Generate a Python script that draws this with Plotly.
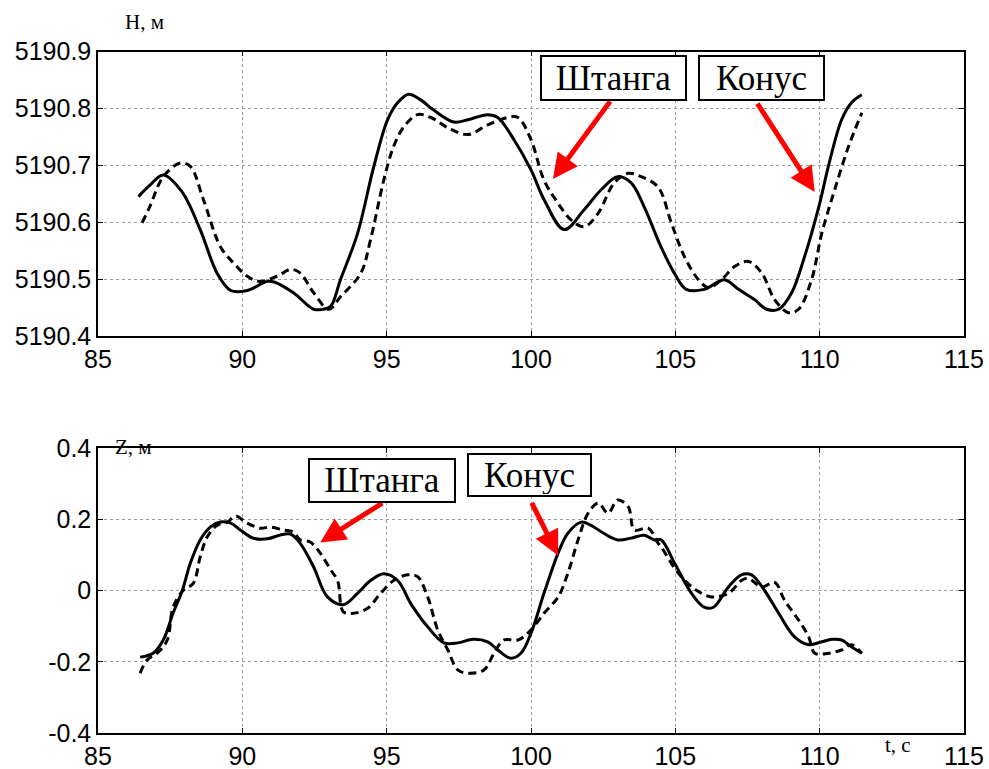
import plotly.graph_objects as go

# ---------------- data ----------------
t_h_cone = [86.4, 86.8, 87.26, 87.9, 88.54, 89.13, 89.6, 90.17, 90.86, 91.1, 91.77, 92.47, 92.8, 93.06, 93.4,
            93.99, 94.55, 95.03, 95.38, 95.76, 96.18, 96.63, 97.33, 97.81, 98.5, 98.85, 99.41, 100.0, 100.45,
            101.15, 101.84, 102.43, 103.0, 103.47, 103.92, 104.5, 104.97, 105.38, 106.0, 106.7, 107.19, 107.74,
            108.16, 108.58, 109.03, 109.48, 109.97, 110.31, 110.76, 111.1, 111.46]
h_cone = [5190.645, 5190.665, 5190.683, 5190.654, 5190.587, 5190.51, 5190.48, 5190.48, 5190.496, 5190.495,
          5190.476, 5190.447, 5190.447, 5190.452, 5190.499, 5190.58, 5190.697, 5190.78, 5190.81, 5190.825,
          5190.815, 5190.797, 5190.776, 5190.78, 5190.789, 5190.784, 5190.745, 5190.692, 5190.64, 5190.587,
          5190.622, 5190.657, 5190.68, 5190.669, 5190.627, 5190.557, 5190.51, 5190.482, 5190.482, 5190.499,
          5190.482, 5190.464, 5190.447, 5190.447, 5190.476, 5190.54, 5190.627, 5190.70, 5190.78, 5190.81,
          5190.824]

t_h_rod = [86.53, 86.8, 87.26, 87.85, 88.2, 88.65, 89.24, 89.7, 90.17, 90.6, 91.2, 91.67, 92.0, 92.47, 93.0,
           93.4, 94.1, 94.44, 94.9, 95.24, 95.6, 96.07, 96.53, 97.12, 97.81, 98.5, 99.2, 99.55, 100.0, 100.45,
           100.94, 101.39, 101.84, 102.33, 102.88, 103.37, 103.82, 104.4, 104.86, 105.31, 105.8, 106.15, 106.6,
           107.05, 107.53, 107.99, 108.44, 108.92, 109.27, 109.72, 110.07, 110.52, 111.0, 111.46]
h_rod = [5190.599, 5190.628, 5190.68, 5190.704, 5190.698, 5190.64, 5190.557, 5190.528, 5190.505, 5190.496,
         5190.505, 5190.517, 5190.511, 5190.476, 5190.447, 5190.469, 5190.51, 5190.569, 5190.674, 5190.733,
         5190.768, 5190.789, 5190.784, 5190.766, 5190.754, 5190.771, 5190.784, 5190.784, 5190.745, 5190.674,
         5190.633, 5190.604, 5190.592, 5190.616, 5190.669, 5190.686, 5190.68, 5190.662, 5190.599, 5190.54,
         5190.499, 5190.485, 5190.499, 5190.522, 5190.531, 5190.511, 5190.464, 5190.441, 5190.447, 5190.499,
         5190.58, 5190.657, 5190.733, 5190.792]

t_z_cone = [86.46, 86.91, 87.26, 87.6, 87.92, 88.2, 88.54, 88.89, 89.24, 89.6, 89.93, 90.38, 90.87, 91.32, 91.67,
            92.0, 92.47, 92.95, 93.5, 93.99, 94.44, 94.9, 95.38, 95.83, 96.42, 96.98, 97.46, 98.0, 98.5, 98.85,
            99.3, 99.65, 100.0, 100.45, 100.94, 101.28, 101.74, 102.08, 102.53, 103.0, 103.47, 103.92, 104.27,
            104.51, 104.97, 105.56, 106.0, 106.32, 106.84, 107.29, 107.64, 108.09, 108.58, 109.13, 109.62,
            110.07, 110.42, 110.76, 111.1, 111.46]
z_cone = [-0.187, -0.176, -0.139, -0.064, 0.0, 0.077, 0.142, 0.178, 0.192, 0.189, 0.17, 0.147, 0.145, 0.156,
          0.158, 0.133, 0.066, -0.018, -0.04, -0.008, 0.028, 0.047, 0.028, -0.036, -0.102, -0.147, -0.147,
          -0.137, -0.144, -0.167, -0.19, -0.176, -0.12, -0.008, 0.105, 0.161, 0.192, 0.183, 0.16, 0.142, 0.147,
          0.155, 0.142, 0.142, 0.077, -0.008, -0.047, -0.047, 0.01, 0.044, 0.044, 0.0, -0.064, -0.13, -0.152,
          -0.144, -0.137, -0.139, -0.158, -0.176]

t_z_rod = [86.46, 86.7, 87.05, 87.4, 87.6, 87.95, 88.3, 88.54, 88.78, 89.13, 89.48, 89.76, 90.17, 90.63, 90.97,
           91.42, 91.77, 92.0, 92.35, 92.7, 93.06, 93.3, 93.5, 93.85, 94.34, 94.79, 95.24, 95.73, 96.07, 96.42,
           96.77, 97.12, 97.46, 97.81, 98.37, 98.72, 99.06, 99.55, 100.0, 100.45, 100.94, 101.28, 101.63,
           101.98, 102.33, 102.67, 103.0, 103.37, 103.58, 104.06, 104.4, 104.51, 105.1, 105.66, 106.25, 106.84,
           107.29, 107.53, 107.99, 108.44, 108.78, 109.27, 109.62, 109.83, 110.31, 110.76, 111.1, 111.46]
z_rod = [-0.232, -0.195, -0.176, -0.139, -0.047, 0.0, 0.02, 0.094, 0.15, 0.183, 0.192, 0.209, 0.189, 0.175,
         0.178, 0.17, 0.164, 0.142, 0.136, 0.105, 0.058, 0.028, -0.06, -0.064, -0.05, -0.008, 0.028, 0.044,
         0.039, -0.018, -0.111, -0.167, -0.223, -0.232, -0.223, -0.176, -0.139, -0.139, -0.111, -0.064, -0.018,
         0.049, 0.142, 0.217, 0.245, 0.217, 0.254, 0.235, 0.17, 0.175, 0.133, 0.122, 0.049, 0.005, -0.018,
         -0.008, 0.028, 0.034, 0.01, 0.023, -0.027, -0.083, -0.13, -0.176, -0.176, -0.167, -0.152, -0.176]

x_ticks = [85, 90, 95, 100, 105, 110, 115]
x_ticktext = ["85", "90", "95", "100", "105", "110", "115"]
h_ticks = [5190.4, 5190.5, 5190.6, 5190.7, 5190.8, 5190.9]
h_ticktext = ["5190.4", "5190.5", "5190.6", "5190.7", "5190.8", "5190.9"]
z_ticks = [-0.4, -0.2, 0, 0.2, 0.4]
z_ticktext = ["-0.4", "-0.2", "0", "0.2", "0.4"]

label_rod = "Штанга"
label_cone = "Конус"

# ---------------- figure ----------------
W, H = 989, 769
fig = go.Figure()

solid = dict(color="black", width=3)
dashed = dict(color="black", width=3, dash="8px,5px")

fig.add_trace(go.Scatter(x=t_h_cone, y=h_cone, mode="lines", line=solid, line_shape="spline",
                         xaxis="x", yaxis="y", showlegend=False))
fig.add_trace(go.Scatter(x=t_h_rod, y=h_rod, mode="lines", line=dashed, line_shape="spline",
                         xaxis="x", yaxis="y", showlegend=False))
fig.add_trace(go.Scatter(x=t_z_cone, y=z_cone, mode="lines", line=solid, line_shape="spline",
                         xaxis="x2", yaxis="y2", showlegend=False))
fig.add_trace(go.Scatter(x=t_z_rod, y=z_rod, mode="lines", line=dashed, line_shape="spline",
                         xaxis="x2", yaxis="y2", showlegend=False))

tickfont = dict(family="Liberation Sans, Arial", size=25, color="black")
common = dict(showline=True, linecolor="black", linewidth=1.5, mirror="ticks", ticks="inside",
              ticklen=5, tickcolor="black", showgrid=True, gridcolor="#9a9a9a", gridwidth=1,
              griddash="dot", zeroline=False, tickfont=tickfont, automargin=False)

xdom = [98 / W, 964 / W]
fig.update_layout(
    width=W, height=H,
    margin=dict(l=0, r=0, t=0, b=0),
    paper_bgcolor="white", plot_bgcolor="white",
    xaxis=dict(domain=xdom, range=[85, 115], tickvals=x_ticks, ticktext=x_ticktext, anchor="y", **common),
    yaxis=dict(domain=[1 - 336 / H, 1 - 51.5 / H], range=[5190.4, 5190.9], tickvals=h_ticks,
               ticktext=h_ticktext, anchor="x", **common),
    xaxis2=dict(domain=xdom, range=[85, 115], tickvals=x_ticks, ticktext=x_ticktext, anchor="y2", **common),
    yaxis2=dict(domain=[1 - 733 / H, 1 - 448 / H], range=[-0.4, 0.4], tickvals=z_ticks,
                ticktext=z_ticktext, anchor="x2", **common),
)

serif = "Liberation Serif, Times New Roman, serif"
box_font = dict(family=serif, size=35, color="black")


def box(text, x0, x1, y0, y1):
    fig.add_annotation(text=text, xref="paper", yref="paper", x=(x0 + x1) / 2 / W, y=1 - (y0 + y1) / 2 / H,
                       xanchor="center", yanchor="middle", showarrow=False, font=box_font,
                       width=x1 - x0 - 6, height=y1 - y0 - 6, align="center", valign="middle",
                       bgcolor="white", bordercolor="black", borderwidth=2, borderpad=1)


def arrow(xr, yr, tail, head):
    fig.add_annotation(text="", xref=xr, yref=yr, axref=xr, ayref=yr,
                       x=head[0], y=head[1], ax=tail[0], ay=tail[1], showarrow=True,
                       arrowhead=2, arrowsize=1, arrowwidth=5, arrowcolor="#ff0000", standoff=0)


# top panel
arrow("x", "y", (102.78, 5190.815), (100.76, 5190.676))
arrow("x", "y", (107.81, 5190.811), (109.83, 5190.653))
box(label_rod, 540, 687, 55, 101)
box(label_cone, 698, 825, 55, 101)
# bottom panel
arrow("x2", "y2", (94.9, 0.248), (92.7, 0.135))
arrow("x2", "y2", (100.0, 0.25), (100.94, 0.098))
box(label_rod, 308, 456, 458, 503)
box(label_cone, 467, 592, 453, 497)

small = dict(family=serif, size=21, color="black")
fig.add_annotation(text="H, м", xref="paper", yref="paper", x=144 / W, y=1 - 22 / H,
                   showarrow=False, font=small, xanchor="center", yanchor="middle")
fig.add_annotation(text="Z, м", xref="paper", yref="paper", x=133 / W, y=1 - 447 / H,
                   showarrow=False, font=small, xanchor="center", yanchor="middle")
fig.add_annotation(text="t, с", xref="paper", yref="paper", x=898 / W, y=1 - 745 / H,
                   showarrow=False, font=small, xanchor="center", yanchor="middle")

fig.write_html("out.html", config={"displayModeBar": False},
               post_script="document.body.style.margin='0px';")
